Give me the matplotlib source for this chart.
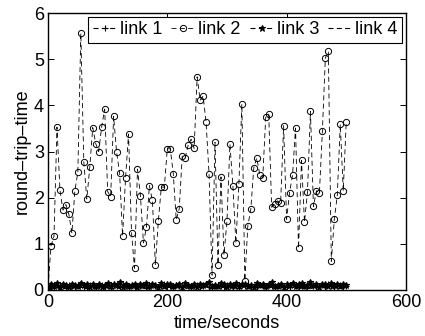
import matplotlib
matplotlib.use('Agg')
import matplotlib.pyplot as plt
import numpy as np

plt.rcParams['font.family'] = ['Liberation Sans', 'DejaVu Sans']
plt.rcParams['lines.scale_dashes'] = False

# sample times (seconds)
t = np.arange(0, 505, 5)

link1 = [0.02, 0.08, 0.06, 0.10, 0.07, 0.09, 0.05, 0.11, 0.08, 0.06,
         0.09, 0.12, 0.07, 0.05, 0.10, 0.08, 0.06, 0.09, 0.11, 0.07,
         0.08, 0.05, 0.10, 0.09, 0.06, 0.12, 0.08, 0.07, 0.10, 0.06,
         0.09, 0.08, 0.11, 0.05, 0.07, 0.10, 0.09, 0.06, 0.08, 0.12,
         0.07, 0.09, 0.05, 0.10, 0.08, 0.06, 0.11, 0.09, 0.07, 0.08,
         0.10, 0.06, 0.09, 0.12, 0.07, 0.05, 0.08, 0.10, 0.09, 0.06,
         0.11, 0.08, 0.07, 0.09, 0.05, 0.10, 0.08, 0.12, 0.06, 0.09,
         0.07, 0.10, 0.08, 0.06, 0.11, 0.09, 0.05, 0.08, 0.10, 0.07,
         0.09, 0.06, 0.12, 0.08, 0.07, 0.10, 0.09, 0.05, 0.11, 0.08,
         0.06, 0.09, 0.10, 0.07, 0.12, 0.08, 0.06, 0.09, 0.11, 0.07,
         0.08]

link2 = [0.05, 0.96, 1.16, 3.53, 2.16, 1.73, 1.85, 1.64, 1.23, 2.15,
         2.55, 5.56, 2.78, 1.97, 2.66, 3.52, 3.17, 3.00, 3.54, 3.92,
         2.13, 2.02, 3.76, 2.98, 2.54, 1.17, 2.43, 3.38, 1.24, 0.47,
         2.62, 2.03, 1.02, 1.36, 2.26, 1.94, 0.54, 1.50, 2.23, 2.23,
         3.06, 3.06, 2.52, 1.52, 1.76, 2.90, 2.86, 3.14, 3.27, 3.07,
         4.62, 4.11, 4.20, 3.64, 2.51, 0.32, 3.20, 0.55, 2.45, 0.76,
         1.49, 3.16, 2.25, 1.01, 2.29, 4.03, 0.20, 1.39, 1.75, 2.65,
         2.86, 2.50, 2.43, 3.74, 3.81, 1.79, 1.86, 1.93, 1.88, 3.56,
         1.53, 2.11, 2.49, 3.51, 0.90, 2.81, 1.47, 2.12, 3.87, 1.81,
         2.15, 2.10, 3.44, 5.03, 5.17, 0.62, 1.53, 2.05, 3.59, 2.15,
         3.65]

link3 = [0.04, 0.12, 0.09, 0.15, 0.07, 0.13, 0.10, 0.06, 0.14, 0.11,
         0.08, 0.16, 0.10, 0.12, 0.07, 0.14, 0.09, 0.13, 0.06, 0.11,
         0.15, 0.08, 0.12, 0.10, 0.17, 0.07, 0.13, 0.09, 0.11, 0.14,
         0.06, 0.12, 0.10, 0.15, 0.08, 0.13, 0.11, 0.07, 0.16, 0.09,
         0.12, 0.14, 0.08, 0.10, 0.13, 0.06, 0.15, 0.11, 0.09, 0.12,
         0.07, 0.14, 0.10, 0.13, 0.18, 0.08, 0.11, 0.09, 0.15, 0.12,
         0.07, 0.13, 0.10, 0.16, 0.08, 0.12, 0.14, 0.09, 0.11, 0.06,
         0.15, 0.10, 0.13, 0.08, 0.12, 0.17, 0.09, 0.11, 0.14, 0.07,
         0.13, 0.10, 0.16, 0.08, 0.12, 0.15, 0.09, 0.11, 0.18, 0.10,
         0.13, 0.07, 0.14, 0.12, 0.09, 0.16, 0.11, 0.13, 0.08, 0.12,
         0.10]

link4 = [0.01, 0.04, 0.03, 0.06, 0.02, 0.05, 0.04, 0.07, 0.03, 0.05,
         0.02, 0.06, 0.04, 0.03, 0.05, 0.07, 0.02, 0.04, 0.06, 0.03,
         0.05, 0.04, 0.02, 0.06, 0.03, 0.08, 0.04, 0.05, 0.02, 0.06,
         0.03, 0.05, 0.04, 0.07, 0.02, 0.04, 0.06, 0.03, 0.05, 0.04,
         0.02, 0.06, 0.03, 0.05, 0.07, 0.04, 0.02, 0.05, 0.03, 0.06,
         0.04, 0.02, 0.05, 0.07, 0.03, 0.04, 0.06, 0.02, 0.05, 0.03,
         0.04, 0.06, 0.02, 0.05, 0.03, 0.08, 0.04, 0.02, 0.06, 0.03,
         0.05, 0.04, 0.07, 0.02, 0.04, 0.06, 0.03, 0.05, 0.02, 0.04,
         0.06, 0.03, 0.05, 0.07, 0.02, 0.04, 0.03, 0.06, 0.05, 0.02,
         0.04, 0.06, 0.03, 0.05, 0.04, 0.07, 0.02, 0.05, 0.03, 0.04,
         0.03]

x_ticks = [0, 200, 400, 600]
y_ticks = [0, 1, 2, 3, 4, 5, 6]

dash = (3.6, 2.4)

fig = plt.figure(figsize=(4.25, 3.36), dpi=100)
ax = fig.add_axes([0.113, 0.137, 0.842, 0.824])

ax.plot(t, link1, color='k', ls='--', dashes=dash, lw=0.8,
        marker='+', ms=5, mew=0.8, label='link 1')
ax.plot(t, link2, color='k', ls='--', dashes=dash, lw=0.6,
        marker='o', ms=4.5, mfc='none', mew=0.7, label='link 2')
ax.plot(t, link3, color='k', ls='--', dashes=dash, lw=0.8,
        marker='*', ms=5, mew=0.8, label='link 3')
ax.plot(t, link4, color='k', ls='--', dashes=dash, lw=0.8, label='link 4')

ax.set_xlim(0, 600)
ax.set_ylim(0, 6)
ax.set_xticks(x_ticks)
ax.set_yticks(y_ticks)
ax.tick_params(direction='in', top=True, right=True, labelsize=13,
               length=4, width=0.7, pad=3)
for s in ax.spines.values():
    s.set_linewidth(1.0)

ax.set_xlabel('time/seconds', fontsize=13, labelpad=3)
ax.set_ylabel('round\u2013trip\u2013time', fontsize=13, labelpad=2)

leg = ax.legend(ncol=4, loc='upper right', fontsize=13, handlelength=1.3,
                handletextpad=0.2, columnspacing=0.5, borderpad=0.25,
                borderaxespad=0.2, fancybox=False, edgecolor='k',
                framealpha=1)
leg.get_frame().set_linewidth(0.8)

fig.savefig('out.png', dpi=100)
